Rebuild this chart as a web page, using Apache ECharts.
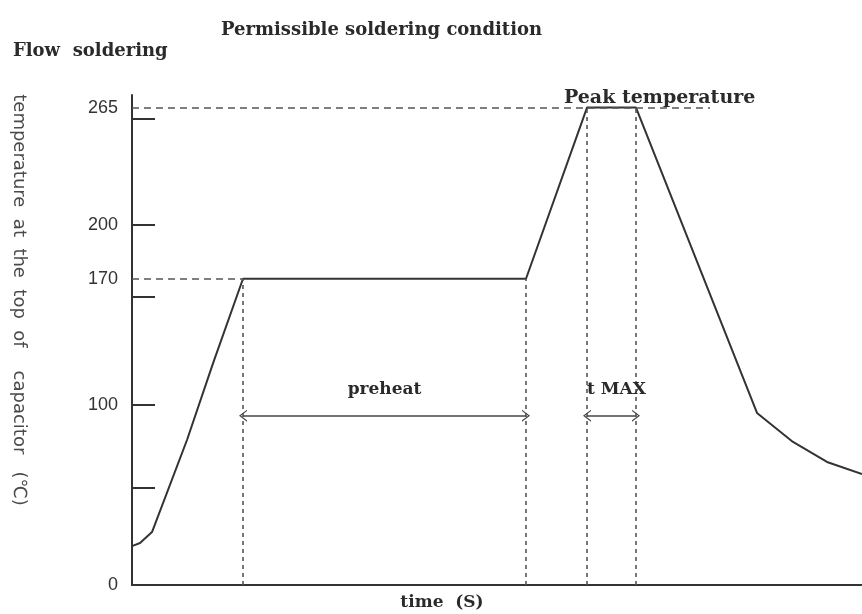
<!DOCTYPE html>
<html>
<head>
<meta charset="utf-8">
<script src="https://cdn.jsdelivr.net/npm/echarts@6/dist/echarts.min.js"></script>
<style>
  html, body { margin: 0; padding: 0; background: #fff; }
  #chart { width: 862px; height: 614px; }
</style>
</head>
<body>
<div id="chart"></div>
<script>
// temperature axis
const tempLabels = [0, 100, 170, 200, 265]
const tempTicks = [54, 100, 160, 200, 259]

// soldering profile (time s, temperature C)
const profileTime = [0, 4, 10, 27.5, 40.5, 55.5, 197, 227.5, 252, 312.5, 330.5, 347.5, 365]
const profileTemp = [21.6, 23.3, 29.4, 80.5, 123, 170, 170, 265, 265, 95.5, 79.4, 68.3, 61.6]

// key moments on the profile
const preheatStart = 55.5
const preheatEnd = 197
const peakStart = 227.5
const peakEnd = 252
const peakGuideEnd = 289
const preheatTemp = 170
const peakTemp = 265
const arrowTemp = 94

const serif = '"DejaVu Serif", serif'
const chevron = 'path://M5,0 L10,10 L8.8,10 L5,2.4 L1.2,10 L0,10 Z'

const chart = echarts.init(document.getElementById('chart'))

const dashH = { color: '#555', width: 1.6, type: [7, 5] }
const dashV = { color: '#555', width: 1.6, type: [4, 4] }

const textBold = { fontFamily: serif, fontWeight: 'bold', color: '#2a2a2a' }

const option = {
  backgroundColor: '#fff',
  animation: false,
  title: [
    {
      text: 'Permissible soldering condition',
      left: 216, top: 16,
      textStyle: { ...textBold, fontSize: 18 }
    },
    {
      text: 'Flow  soldering',
      left: 8, top: 37,
      textStyle: { ...textBold, fontSize: 18 }
    },
    {
      text: 'Peak temperature',
      left: 559, top: 84,
      textStyle: { ...textBold, fontSize: 19 }
    }
  ],
  grid: { left: 132, right: 0, top: 95, bottom: 29, outerBoundsMode: 'none' },
  xAxis: {
    type: 'value',
    min: 0,
    max: 365,
    name: 'time  (S)',
    nameLocation: 'middle',
    nameGap: 9,
    nameTextStyle: {
      ...textBold, fontSize: 17,
      padding: [0, 110, 0, 0]
    },
    axisLine: { show: true, lineStyle: { color: '#333', width: 2 } },
    axisTick: { show: false },
    axisLabel: { show: false },
    splitLine: { show: false }
  },
  yAxis: {
    type: 'value',
    min: 0,
    max: 272,
    name: 'temperature  at  the  top  of    capacitor   (\u2103)',
    nameLocation: 'middle',
    nameRotate: -90,
    nameGap: 104,
    nameTextStyle: {
      fontFamily: '"DejaVu Sans", sans-serif', fontSize: 18, color: '#4a4a4a',
      padding: [0, 80, 0, 0]
    },
    axisLine: { show: true, lineStyle: { color: '#333', width: 2 } },
    axisTick: {
      show: true, inside: true, length: 23,
      customValues: tempTicks,
      lineStyle: { color: '#333', width: 2 }
    },
    axisLabel: {
      customValues: tempLabels,
      margin: 14,
      fontFamily: '"Liberation Sans", sans-serif',
      fontSize: 18,
      color: '#333'
    },
    splitLine: { show: false }
  },
  series: [
    {
      type: 'line',
      data: profileTime.map((t, i) => [t, profileTemp[i]]),
      showSymbol: false,
      lineStyle: { color: '#333', width: 2 },
      markLine: {
        silent: true,
        symbol: 'none',
        label: { show: false },
        data: [
          [{ coord: [0, peakTemp], lineStyle: dashH }, { coord: [peakGuideEnd, peakTemp] }],
          [{ coord: [0, preheatTemp], lineStyle: dashH }, { coord: [preheatStart, preheatTemp] }],
          [{ coord: [preheatStart, 0], lineStyle: dashV }, { coord: [preheatStart, preheatTemp] }],
          [{ coord: [preheatEnd, 0], lineStyle: dashV }, { coord: [preheatEnd, preheatTemp] }],
          [{ coord: [peakStart, 0], lineStyle: dashV }, { coord: [peakStart, peakTemp] }],
          [{ coord: [peakEnd, 0], lineStyle: dashV }, { coord: [peakEnd, peakTemp] }]
        ]
      }
    },
    {
      type: 'line',
      data: [],
      markLine: {
        silent: true,
        symbol: [chevron, chevron],
        symbolSize: [12, 8],
        lineStyle: { color: '#444', width: 1.5, type: 'solid' },
        label: {
          show: true,
          ...textBold,
          fontSize: 17,
          distance: 18
        },
        data: [
          [
            { coord: [preheatStart, arrowTemp], label: { formatter: 'preheat', position: 'middle' } },
            { coord: [preheatEnd, arrowTemp] }
          ],
          [
            { coord: [peakStart, arrowTemp], label: { formatter: 't MAX', position: 'insideStartTop', distance: [0, 18] } },
            { coord: [peakEnd, arrowTemp] }
          ]
        ]
      }
    }
  ]
}

chart.setOption(option)
window.addEventListener('resize', () => chart.resize())
</script>
</body>
</html>
